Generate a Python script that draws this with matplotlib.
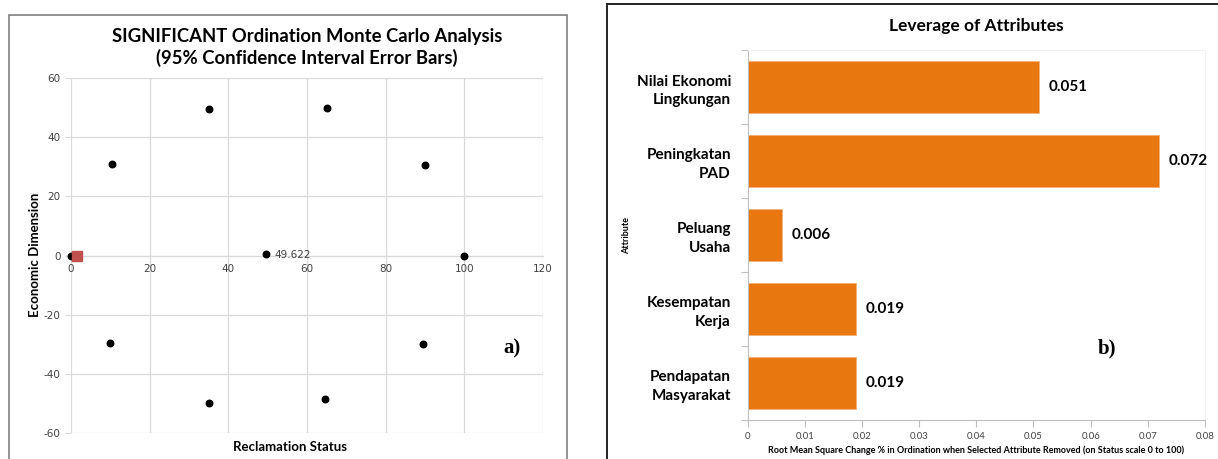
import matplotlib.pyplot as plt
from matplotlib.patches import Rectangle
import numpy as np

plt.rcParams["font.family"] = ["Lato", "DejaVu Sans"]
plt.rcParams["axes.unicode_minus"] = False

# left panel: ordination scatter
status = [10.5, 35, 65, 90, 49.622, 100, 0, 10, 35, 64.5, 89.5]
economic = [31, 49.5, 50, 30.5, 0.5, 0, 0, -29.5, -50, -48.5, -30]
anchor_status = [1.4]
anchor_economic = [0]

# right panel: leverage bars
attributes = ["Nilai Ekonomi\nLingkungan", "Peningkatan\nPAD", "Peluang\nUsaha",
              "Kesempatan\nKerja", "Pendapatan\nMasyarakat"]
leverage = [0.051, 0.072, 0.006, 0.019, 0.019]

W, H = 1218, 459
fig = plt.figure(figsize=(W / 100, H / 100), dpi=100)


def box(x0, y0, x1, y1):
    return [x0 / W, 1 - y1 / H, (x1 - x0) / W, (y1 - y0) / H]


# panel frames
fig.patches.append(Rectangle((9 / W, -0.01), (567 - 9) / W, 1 - 15 / H + 0.01,
                             transform=fig.transFigure, fill=False,
                             edgecolor="#808080", linewidth=1.2))
fig.patches.append(Rectangle((607 / W, -0.01), 1.0, 1 - 4 / H + 0.01,
                             transform=fig.transFigure, fill=False,
                             edgecolor="#222222", linewidth=1.4))

# ---- left chart
ax = fig.add_axes(box(71, 78, 543, 433))
ax.scatter(status, economic, s=22, color="black", zorder=3, clip_on=False)
ax.plot(anchor_status, anchor_economic, "s", color="#C0504D", markersize=6.5, zorder=4,
        clip_on=False)
ax.annotate("49.622", (status[4], economic[4]), xytext=(6, -1), textcoords="offset points",
            fontsize=7.5, color="#404040", va="center", family="DejaVu Sans")
ax.set_xlim(0, 120)
ax.set_ylim(-60, 60)
ax.set_xticks(np.arange(0, 121, 20))
ax.set_yticks(np.arange(-60, 61, 20))
ax.grid(color="#D9D9D9", linewidth=0.9)
ax.set_axisbelow(True)
for side in ("top", "right", "left"):
    ax.spines[side].set_visible(False)
ax.spines["bottom"].set_position(("data", 0))
ax.spines["bottom"].set_color("#D9D9D9")
ax.tick_params(axis="x", length=0, pad=6, labelsize=7.5, labelcolor="#404040")
ax.tick_params(axis="y", length=4, color="#D9D9D9", labelsize=7.5, labelcolor="#404040")
for lbl in ax.get_xticklabels() + ax.get_yticklabels():
    lbl.set_family("DejaVu Sans")
ax.set_title("SIGNIFICANT Ordination Monte Carlo Analysis\n(95% Confidence Interval Error Bars)",
             fontsize=13.3, fontweight="bold", pad=10, linespacing=1.3)
fig.text(35 / W, 1 - 255 / H, "Economic Dimension", rotation=90, ha="center", va="center",
         fontsize=9.5, fontweight="bold")
fig.text(290 / W, 1 - 447 / H, "Reclamation Status", ha="center", va="center",
         fontsize=9.5, fontweight="bold")
fig.text(512 / W, 1 - 348 / H, "a)", ha="center", va="center", fontsize=15,
         fontweight="bold", family="Liberation Serif")

# ---- right chart
bx = fig.add_axes(box(747.6, 50, 1205, 420))
y = np.arange(len(attributes))
bx.barh(y, leverage, height=0.7, color="#E8770F", edgecolor="#F4B07A", linewidth=0.6)
for yi, v in zip(y, leverage):
    bx.text(v + 0.0017, yi, f"{v:.3f}", va="center", ha="left", fontsize=11, fontweight="bold")
bx.set_ylim(len(attributes) - 0.5, -0.5)
bx.set_xlim(0, 0.08)
bx.set_xticks(np.arange(0, 0.081, 0.01))
bx.set_xticklabels(["0"] + [f"{t:.2f}" for t in np.arange(0.01, 0.081, 0.01)])
bx.set_yticks(np.arange(-0.5, len(attributes), 1.0), minor=False)
bx.set_yticklabels([])
bx.set_yticks(y, minor=True)
bx.set_yticklabels(attributes, minor=True, fontsize=11, fontweight="bold", linespacing=1.45)
bx.tick_params(axis="y", which="minor", length=0, pad=12)
bx.tick_params(axis="y", which="major", length=5, color="#BFBFBF")
bx.tick_params(axis="x", length=5, color="#BFBFBF", labelsize=6.8, labelcolor="#404040")
for lbl in bx.get_yticklabels(minor=True):
    lbl.set_horizontalalignment("right")
for side in ("top", "right"):
    bx.spines[side].set_color("#F2F2F2")
for side in ("left", "bottom"):
    bx.spines[side].set_color("#BFBFBF")
bx.set_title("Leverage of Attributes", fontsize=12.5, fontweight="bold", pad=14)
fig.text(627 / W, 1 - 235 / H, "Attribute", rotation=90, ha="center", va="center",
         fontsize=6.5, fontweight="bold")
fig.text(976 / W, 1 - 450 / H,
         "Root Mean Square Change % in Ordination when Selected Attribute Removed (on Status scale 0 to 100)",
         ha="center", va="center", fontsize=6.5, fontweight="bold")
fig.text(1107 / W, 1 - 348 / H, "b)", ha="center", va="center", fontsize=15,
         fontweight="bold", family="Liberation Serif")

fig.savefig("out.png", dpi=100, facecolor="white")
